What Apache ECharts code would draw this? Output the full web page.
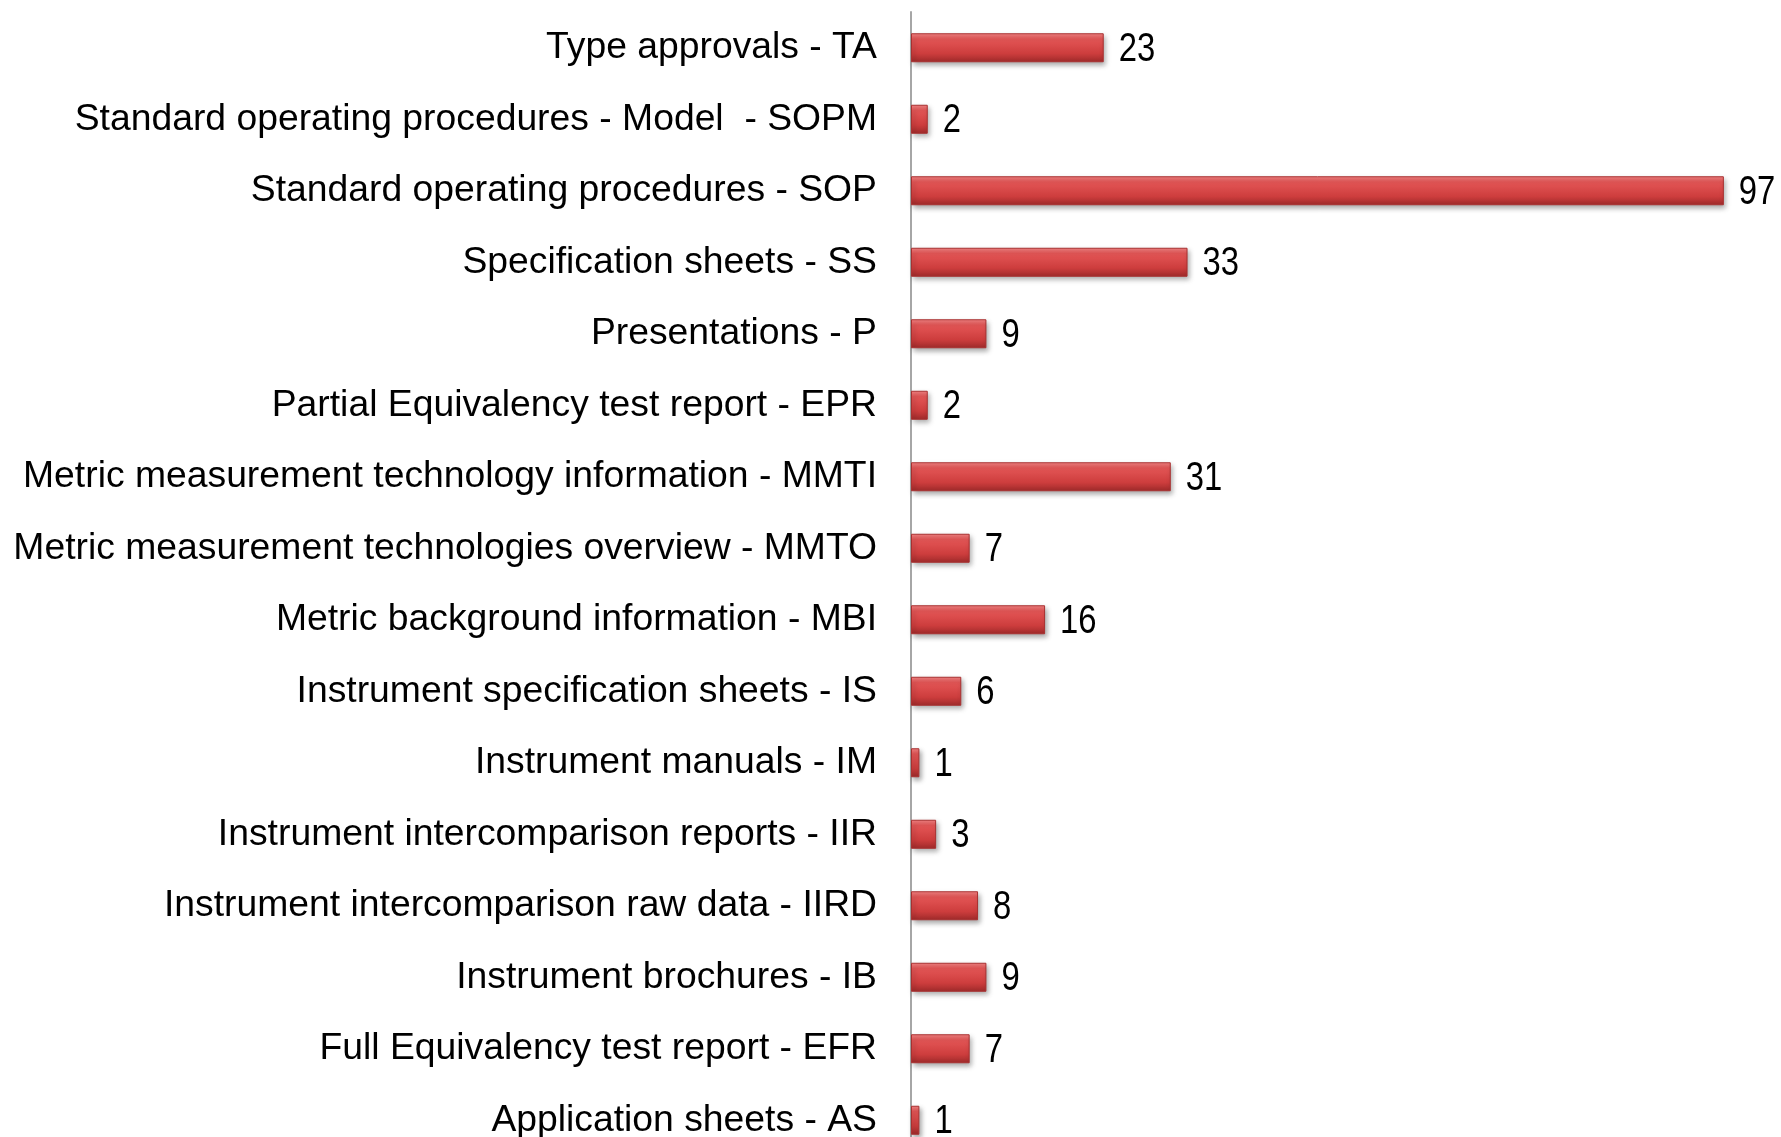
<!DOCTYPE html>
<html>
<head>
<meta charset="utf-8">
<script src="https://cdn.jsdelivr.net/npm/echarts@6/dist/echarts.min.js"></script>
<style>
html,body{margin:0;padding:0;background:#fff;}
#chart{width:1781px;height:1137px;}
</style>
</head>
<body>
<div id="chart"></div>
<script>
const categories = [
  "Type approvals - TA",
  "Standard operating procedures - Model  - SOPM",
  "Standard operating procedures - SOP",
  "Specification sheets - SS",
  "Presentations - P",
  "Partial Equivalency test report - EPR",
  "Metric measurement technology information - MMTI",
  "Metric measurement technologies overview - MMTO",
  "Metric background information - MBI",
  "Instrument specification sheets - IS",
  "Instrument manuals - IM",
  "Instrument intercomparison reports - IIR",
  "Instrument intercomparison raw data - IIRD",
  "Instrument brochures - IB",
  "Full Equivalency test report - EFR",
  "Application sheets - AS"
];
const values = [23, 2, 97, 33, 9, 2, 31, 7, 16, 6, 1, 3, 8, 9, 7, 1];

const labelData = values.map((v, i) => [v, i]);

const chart = echarts.init(document.getElementById('chart'));
chart.setOption({
  animation: false,
  backgroundColor: '#ffffff',
  grid: { left: 911, right: 32, top: 12, height: 1144, containLabel: false, outerBoundsMode: 'none' },
  xAxis: { type: 'value', min: 0, max: 100, show: false },
  yAxis: {
    type: 'category',
    data: categories,
    inverse: true,
    axisLine: { show: true, lineStyle: { color: '#a6a6a6', width: 2 } },
    axisTick: { show: false },
    axisLabel: { margin: 34, color: '#000', fontFamily: 'Liberation Sans, Arial, sans-serif', fontSize: 37.3, padding: [5, 0, 0, 0] }
  },
  series: [{
    type: 'bar',
    data: values,
    barWidth: 29,
    itemStyle: {
      color: new echarts.graphic.LinearGradient(0, 0, 0, 1, [
        { offset: 0, color: '#f58585' },
        { offset: 0.2, color: '#e45656' },
        { offset: 0.7, color: '#cd3d3d' },
        { offset: 1, color: '#9e2a2a' }
      ]),
      borderColor: '#a83030',
      borderWidth: 1,
      shadowColor: 'rgba(0,0,0,0.35)',
      shadowBlur: 5,
      shadowOffsetX: 2,
      shadowOffsetY: 3
    }
  }, {
    type: 'custom',
    data: labelData,
    encode: { x: 0, y: 1 },
    z: 5,
    renderItem: function (params, api) {
      const v = api.value(0);
      const c = api.coord([v, api.value(1)]);
      return {
        type: 'text',
        x: c[0] + 15,
        y: c[1] + 2,
        scaleX: 0.82,
        style: {
          text: String(v),
          fill: '#000',
          font: '40px "Liberation Sans", Arial, sans-serif',
          align: 'left',
          verticalAlign: 'middle',
          textAlign: 'left',
          textVerticalAlign: 'middle'
        }
      };
    }
  }]
});
</script>
</body>
</html>
